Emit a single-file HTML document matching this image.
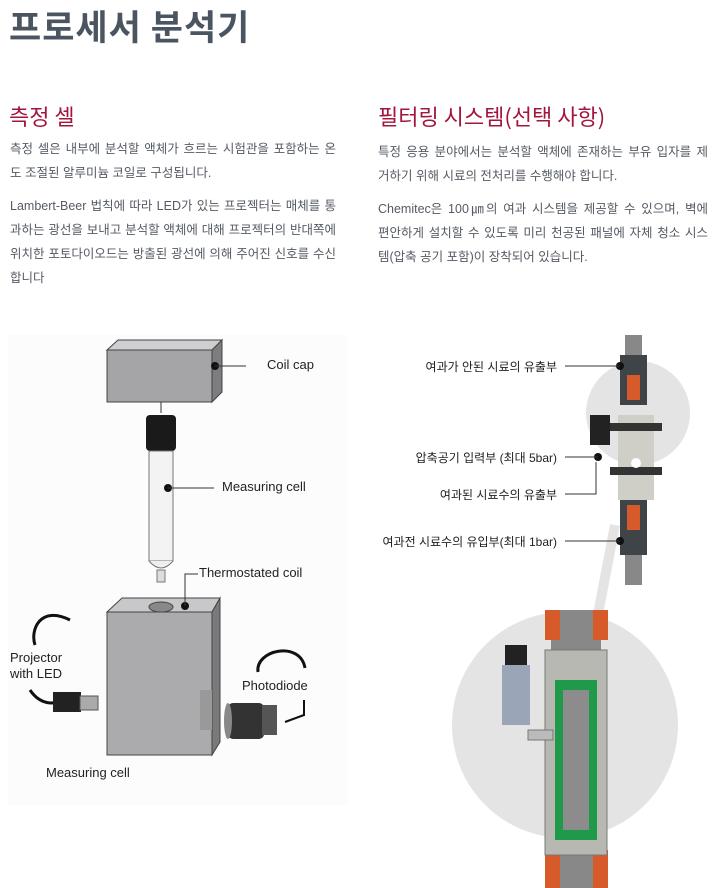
<!DOCTYPE html>
<html><head><meta charset="utf-8"><style>
body{margin:0;width:720px;height:888px;background:#fff;position:relative;overflow:hidden;font-family:"Liberation Sans","Noto Sans CJK KR",sans-serif;}
.a{position:absolute;white-space:nowrap}
h1{position:absolute;left:9px;top:0;margin:0;font-size:35px;font-weight:bold;color:#4a5561;letter-spacing:1px;font-family:"Noto Sans CJK KR",sans-serif}
h2{position:absolute;margin:0;font-size:22px;font-weight:normal;color:#a3153c;font-family:"Noto Sans CJK KR",sans-serif}
.j{position:absolute;font-size:12.5px;line-height:24px;height:24px;color:#555b63;text-align:justify;text-align-last:justify;white-space:nowrap}
.k{position:absolute;font-size:12.5px;line-height:24px;color:#555b63;white-space:nowrap}
.l{position:absolute;font-size:13px;color:#222;white-space:nowrap}
</style></head><body>
<h1>프로세서 분석기</h1>
<h2 style="left:9px;top:100px">측정 셀</h2>
<h2 style="left:378px;top:100px">필터링 시스템(선택 사항)</h2>
<div class="j" style="left:10px;top:137px;width:326px">측정 셀은 내부에 분석할 액체가 흐르는 시험관을 포함하는 온</div>
<div class="k" style="left:10px;top:161px">도 조절된 알루미늄 코일로 구성됩니다.</div>
<div class="j" style="left:10px;top:194px;width:326px">Lambert-Beer 법칙에 따라 LED가 있는 프로젝터는 매체를 통</div>
<div class="j" style="left:10px;top:218px;width:326px">과하는 광선을 보내고 분석할 액체에 대해 프로젝터의 반대쪽에</div>
<div class="j" style="left:10px;top:242px;width:326px">위치한 포토다이오드는 방출된 광선에 의해 주어진 신호를 수신</div>
<div class="k" style="left:10px;top:266px">합니다</div>
<div class="j" style="left:378px;top:140px;width:330px">특정 응용 분야에서는 분석할 액체에 존재하는 부유 입자를 제</div>
<div class="k" style="left:378px;top:164px">거하기 위해 시료의 전처리를 수행해야 합니다.</div>
<div class="j" style="left:378px;top:197px;width:330px">Chemitec은 100㎛의 여과 시스템을 제공할 수 있으며, 벽에</div>
<div class="j" style="left:378px;top:221px;width:330px">편안하게 설치할 수 있도록 미리 천공된 패널에 자체 청소 시스</div>
<div class="k" style="left:378px;top:245px">템(압축 공기 포함)이 장착되어 있습니다.</div>

<svg class="a" style="left:0;top:0" width="720" height="888">
<rect x="8" y="335" width="340" height="470" fill="#fcfcfc"/>
<rect x="107" y="350" width="105" height="52" fill="#a5a5a7" stroke="#444"/>
<polygon points="107,350 118,340 222,340 212,350" fill="#cfcfd1" stroke="#444"/>
<polygon points="212,350 222,340 222,392 212,402" fill="#7d7d80" stroke="#444"/>
<line x1="161" y1="402" x2="161" y2="413" stroke="#333"/>
<rect x="146" y="415" width="30" height="36" rx="4" fill="#1a1a1a"/>
<rect x="149" y="451" width="24" height="110" fill="#f3f3f3" stroke="#777"/>
<path d="M149 561 Q161 575 173 561" fill="#eee" stroke="#777"/>
<rect x="157" y="570" width="8" height="12" fill="#ddd" stroke="#777"/>
<rect x="107" y="612" width="105" height="143" fill="#ababad" stroke="#444"/>
<polygon points="107,612 122,598 220,598 212,612" fill="#c8c8ca" stroke="#444"/>
<polygon points="212,612 220,598 220,742 212,755" fill="#7a7a7d" stroke="#444"/>
<ellipse cx="161" cy="607" rx="12" ry="5" fill="#888" stroke="#444"/>
<rect x="200" y="690" width="12" height="40" fill="#999"/>
<path d="M70 620 C40 605 30 630 35 645 M30 690 C40 705 55 705 60 700" stroke="#111" stroke-width="3" fill="none"/>
<rect x="53" y="692" width="28" height="20" fill="#222"/>
<rect x="80" y="696" width="18" height="14" fill="#aaa" stroke="#555"/>
<path d="M258 672 C255 650 300 640 305 668" stroke="#111" stroke-width="3" fill="none"/>
<path d="M304 700 L304 715 L285 722" stroke="#111" stroke-width="2" fill="none"/>
<rect x="228" y="703" width="36" height="36" rx="5" fill="#333"/>
<ellipse cx="228" cy="721" rx="4" ry="18" fill="#888"/>
<rect x="262" y="705" width="15" height="30" fill="#555"/>
<g fill="#111"><circle cx="215" cy="366" r="4"/><circle cx="168" cy="488" r="4"/><circle cx="185" cy="606" r="4"/></g>
<g stroke="#333" fill="none"><line x1="215" y1="366" x2="246" y2="366"/><line x1="168" y1="488" x2="214" y2="488"/><polyline points="185,606 185,574 198,574"/></g>
<circle cx="638" cy="413" r="52" fill="#e4e4e5"/>
<line x1="615" y1="525" x2="595" y2="630" stroke="#e4e4e5" stroke-width="10"/>
<circle cx="565" cy="725" r="113" fill="#e4e4e5"/>
<rect x="625" y="335" width="17" height="22" fill="#888"/>
<rect x="620" y="355" width="27" height="50" fill="#3f4448"/>
<rect x="627" y="375" width="13" height="25" fill="#d65a2a"/>
<rect x="618" y="415" width="36" height="85" fill="#cfcfc8"/>
<rect x="610" y="423" width="52" height="8" fill="#333"/>
<rect x="610" y="467" width="52" height="8" fill="#333"/>
<circle cx="636" cy="463" r="5" fill="#fff"/>
<rect x="590" y="415" width="20" height="30" fill="#222"/>
<rect x="620" y="500" width="27" height="55" fill="#3f4448"/>
<rect x="627" y="505" width="13" height="25" fill="#d65a2a"/>
<rect x="625" y="555" width="17" height="30" fill="#888"/>
<rect x="551" y="610" width="50" height="278" fill="#888"/>
<rect x="545" y="610" width="15" height="30" fill="#d65a2a"/><rect x="593" y="610" width="15" height="30" fill="#d65a2a"/>
<rect x="545" y="850" width="15" height="38" fill="#d65a2a"/><rect x="593" y="850" width="15" height="38" fill="#d65a2a"/>
<rect x="545" y="650" width="62" height="205" fill="#b8b8b2" stroke="#777"/>
<rect x="555" y="680" width="42" height="160" fill="#1f9a4a"/>
<rect x="563" y="690" width="26" height="140" fill="#8c8c8c"/>
<rect x="505" y="645" width="22" height="22" fill="#222"/>
<rect x="502" y="665" width="28" height="60" fill="#9aa5b8"/>
<rect x="528" y="730" width="25" height="10" fill="#bbb" stroke="#777"/>
<g fill="#111"><circle cx="620" cy="366" r="4"/><circle cx="598" cy="457" r="4"/><circle cx="620" cy="541" r="4"/></g>
<g stroke="#333" fill="none"><line x1="565" y1="366" x2="620" y2="366"/><line x1="565" y1="457" x2="598" y2="457"/><polyline points="565,494 596,494 596,462"/><line x1="565" y1="541" x2="620" y2="541"/></g>
</svg>

<div class="l" style="left:267px;top:357px">Coil cap</div>
<div class="l" style="left:222px;top:479px">Measuring cell</div>
<div class="l" style="left:199px;top:565px">Thermostated coil</div>
<div class="l" style="left:10px;top:650px;line-height:16px">Projector<br>with LED</div>
<div class="l" style="left:242px;top:678px">Photodiode</div>
<div class="l" style="left:46px;top:765px">Measuring cell</div>
<div class="l" style="right:163px;top:358px;font-size:12px">여과가 안된 시료의 유출부</div>
<div class="l" style="right:163px;top:449px;font-size:12px">압축공기 입력부 (최대 5bar)</div>
<div class="l" style="right:163px;top:486px;font-size:12px">여과된 시료수의 유출부</div>
<div class="l" style="right:163px;top:533px;font-size:12px">여과전 시료수의 유입부(최대 1bar)</div>
</body></html>
